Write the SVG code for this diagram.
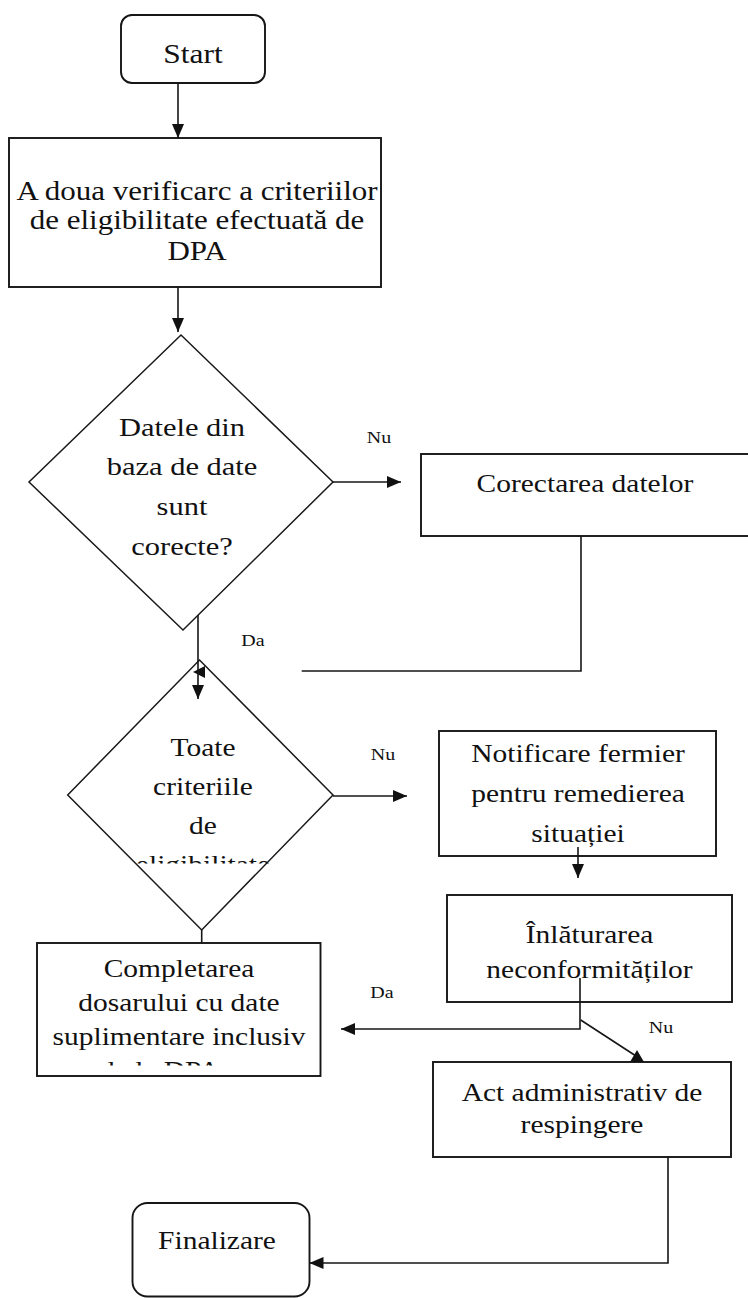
<svg xmlns="http://www.w3.org/2000/svg" width="748" height="1298" viewBox="0 0 748 1298">
<defs>
<style>
.t{font-family:"Liberation Serif","Times New Roman",serif;font-size:29.5px;text-anchor:middle;fill:#111}
.s{font-family:"Liberation Serif","Times New Roman",serif;font-size:20px;text-anchor:middle;fill:#111}
.box{fill:#fff;stroke:#161616;stroke-width:1.9}
.dia{fill:#fff;stroke:#1a1a1a;stroke-width:1.5}
.ln{fill:none;stroke:#161616;stroke-width:1.6}
.ah{fill:#111;stroke:none}
</style>
<marker id="arr" viewBox="0 0 14 12" refX="14" refY="6" markerWidth="14" markerHeight="12" markerUnits="userSpaceOnUse" orient="auto"><path d="M0,0 L14,6 L0,12 z" fill="#111"/></marker>
<clipPath id="clipD2"><rect x="60" y="650" width="280" height="213.5"/></clipPath>
<clipPath id="clipC"><rect x="30" y="940" width="300" height="125.5"/></clipPath>
</defs>
<rect width="748" height="1298" fill="#fff"/>

<g id="start">
<rect class="box" x="121" y="15" width="144" height="68" rx="11"/>
<text class="t" style="font-size:31.5px" transform="translate(193,63) scale(1,0.85)">Start</text>
</g>

<g id="verificare">
<rect class="box" x="9" y="138" width="372" height="149"/>
<text class="t" style="font-size:31px" transform="translate(197,200) scale(1,0.85)">A doua verificarc a criteriilor</text>
<text class="t" style="font-size:31px" transform="translate(197,229) scale(1,0.85)">de eligibilitate efectuată de</text>
<text class="t" style="font-size:31px" transform="translate(197,260) scale(1,0.85)">DPA</text>
</g>

<g id="datele">
<polygon class="dia" points="181,335 333,482 183,630 29,482"/>
<text class="t" style="font-size:30.5px" transform="translate(182,436) scale(1,0.85)">Datele din</text>
<text class="t" style="font-size:30.5px" transform="translate(182,475) scale(1,0.85)">baza de date</text>
<text class="t" style="font-size:30.5px" transform="translate(182,515) scale(1,0.85)">sunt</text>
<text class="t" style="font-size:30.5px" transform="translate(182,555) scale(1,0.85)">corecte?</text>
</g>

<g id="corectarea">
<rect class="box" x="421" y="454" width="340" height="82"/>
<text class="t" transform="translate(585,492) scale(1,0.85)">Corectarea datelor</text>
</g>

<g id="toate">
<polygon class="dia" points="199.5,660 333,795 201.7,930 67.7,795"/>
<text class="t" transform="translate(203,756) scale(1,0.85)">Toate</text>
<text class="t" transform="translate(203,795) scale(1,0.85)">criteriile</text>
<text class="t" transform="translate(203,834) scale(1,0.85)">de</text>
<g clip-path="url(#clipD2)"><text class="t" transform="translate(203,873) scale(1,0.85)">eligibilitate</text></g>
</g>

<g id="notificare">
<rect class="box" x="439" y="731" width="277" height="125"/>
<text class="t" transform="translate(578,762) scale(1,0.85)">Notificare fermier</text>
<text class="t" transform="translate(578,802) scale(1,0.85)">pentru remedierea</text>
<text class="t" transform="translate(578,842) scale(1,0.85)">situației</text>
</g>

<g id="inlaturarea">
<rect class="box" x="447" y="895" width="285" height="107"/>
<text class="t" transform="translate(589.5,943) scale(1,0.85)">Înlăturarea</text>
<text class="t" transform="translate(589.5,978) scale(1,0.85)">neconformităților</text>
</g>

<g id="completarea">
<rect class="box" x="37" y="943" width="283.5" height="133"/>
<text class="t" transform="translate(179,977) scale(1,0.85)">Completarea</text>
<text class="t" transform="translate(179,1011) scale(1,0.85)">dosarului cu date</text>
<text class="t" transform="translate(179,1045) scale(1,0.85)">suplimentare inclusiv</text>
<g clip-path="url(#clipC)"><text class="t" transform="translate(160,1079) scale(1,0.85)">de la DPA</text></g>
</g>

<g id="act">
<rect class="box" x="433" y="1062" width="298" height="95"/>
<text class="t" transform="translate(582,1101) scale(1,0.85)">Act administrativ de</text>
<text class="t" transform="translate(582,1133) scale(1,0.85)">respingere</text>
</g>

<g id="finalizare">
<rect class="box" x="132.5" y="1203" width="177" height="93.5" rx="15"/>
<text class="t" transform="translate(217,1249) scale(1,0.85)">Finalizare</text>
</g>

<g id="connectors">
<line class="ln" x1="178" y1="83" x2="178" y2="138" marker-end="url(#arr)"/>
<line class="ln" x1="178" y1="287" x2="178" y2="332" marker-end="url(#arr)"/>
<line class="ln" x1="333" y1="482" x2="401" y2="482" marker-end="url(#arr)"/>
<polyline class="ln" points="581,536 581,671 301.7,671"/>
<polygon class="ah" points="193,672 205,666 205,678"/>
<line class="ln" x1="198" y1="615" x2="198" y2="699" marker-end="url(#arr)"/>
<line class="ln" x1="333" y1="796" x2="407" y2="796" marker-end="url(#arr)"/>
<line class="ln" x1="201.7" y1="930" x2="201.7" y2="943"/>
<line class="ln" x1="578" y1="847" x2="578" y2="878" marker-end="url(#arr)"/>
<polyline class="ln" points="580,978 580,1029 341,1029" marker-end="url(#arr)"/>
<line class="ln" x1="580.7" y1="1020" x2="636" y2="1056"/>
<polygon class="ah" points="637,1050 630,1062 644,1062"/>
<polyline class="ln" points="668,1157 668,1263 309.5,1263" marker-end="url(#arr)"/>
<text class="s" transform="translate(379,443) scale(1,0.85)">Nu</text>
<text class="s" transform="translate(253,646) scale(1,0.85)">Da</text>
<text class="s" transform="translate(383,760) scale(1,0.85)">Nu</text>
<text class="s" transform="translate(382,998) scale(1,0.85)">Da</text>
<text class="s" transform="translate(661,1033) scale(1,0.85)">Nu</text>
</g>
</svg>
